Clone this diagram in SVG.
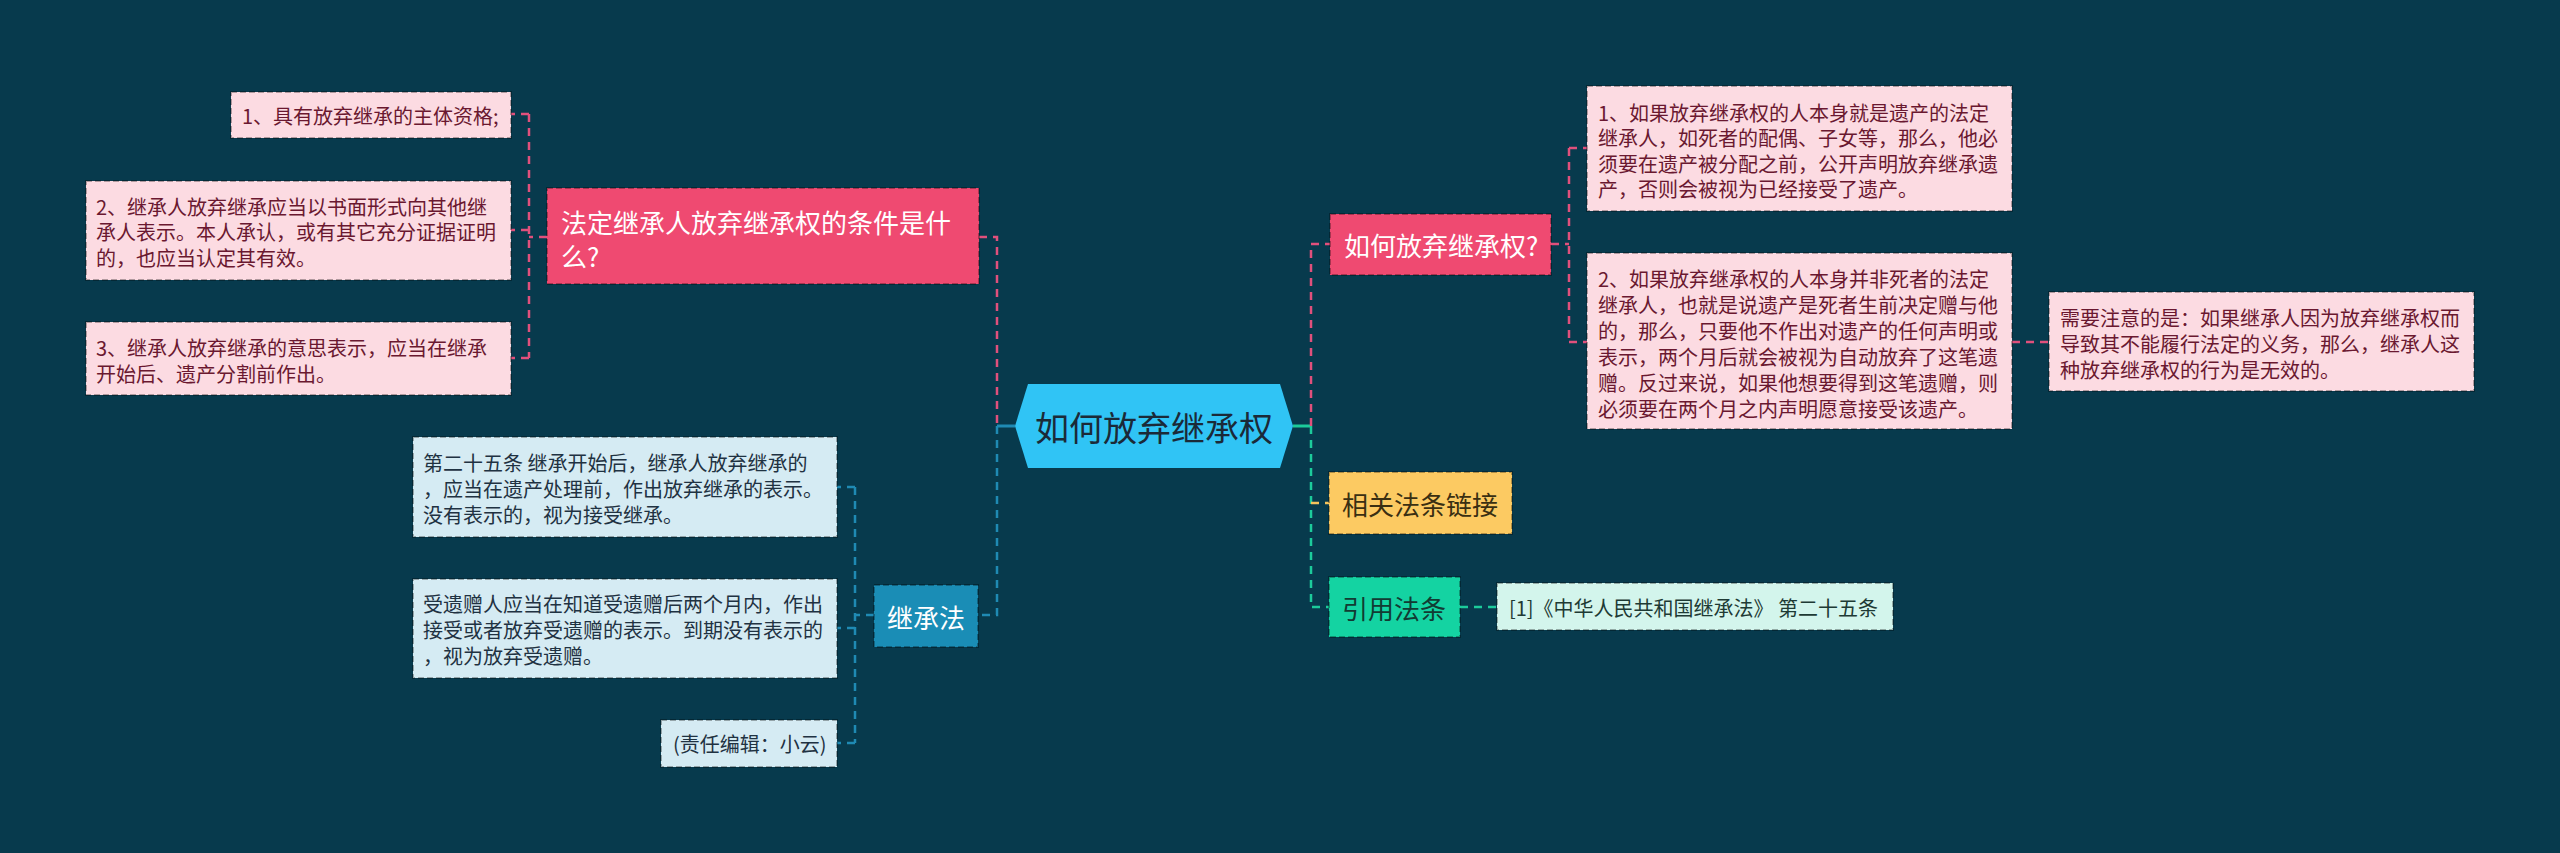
<svg xmlns="http://www.w3.org/2000/svg" width="2560" height="853" viewBox="0 0 2560 853">
<style>
text{font-family:"Noto Sans CJK SC","Noto Sans",sans-serif;dominant-baseline:central}
.leaf{font-size:20px}
.br{font-size:26px}
.c{fill:none;stroke-width:2.5;stroke-dasharray:8 6}
.pk{stroke:#e0507c}
.bl{stroke:#1f8ab4}
.gn{stroke:#1ccb9b}
.yl{stroke:#f5c35c}
.bd{stroke:rgba(0,0,0,0.3);stroke-width:2;stroke-dasharray:6 3}
.lp{fill:#fcdbe2}
.lpt{fill:#6a1830}
.lb{fill:#d5ebf3}
.lbt{fill:#1f3242}
</style>
<rect width="2560" height="853" fill="#073a4d"/>
<g id="connectors">
<path d="M997,426 H1015" stroke="#1f8ab4" stroke-width="3" fill="none"/>
<path d="M1293,426 H1311" stroke="#1ccb9b" stroke-width="3" fill="none"/>
<path class="c pk" d="M979,237 H997 V426"/>
<path class="c bl" d="M997,426 V615 H978"/>
<path class="c pk" d="M547,237 H529"/>
<path class="c pk" d="M529,114 V358"/>
<path class="c pk" d="M529,114 H511"/>
<path class="c pk" d="M529,230 H511"/>
<path class="c pk" d="M529,358 H511"/>
<path class="c bl" d="M874,615 H855"/>
<path class="c bl" d="M855,487 V743"/>
<path class="c bl" d="M855,487 H837"/>
<path class="c bl" d="M855,628 H837"/>
<path class="c bl" d="M855,743 H837"/>
<path class="c pk" d="M1311,426 V244 H1330"/>
<path class="c gn" d="M1311,426 V607 H1329"/>
<path class="c yl" d="M1311,503 H1329"/>
<path class="c pk" d="M1551,244 H1569"/>
<path class="c pk" d="M1569,148 V342"/>
<path class="c pk" d="M1569,148 H1587"/>
<path class="c pk" d="M1569,342 H1587"/>
<path class="c pk" d="M2012,342 H2049"/>
<path class="c gn" d="M1460,607 H1497"/>
</g>
<g id="root">
<polygon points="1015,426 1028,384 1280,384 1293,426 1280,468 1028,468" fill="#30c4f5"/>
<text x="1154" y="426" font-size="34" text-anchor="middle" fill="#1b2a38">如何放弃继承权</text>
</g>
<g id="n-conditions">
<rect x="547" y="188" width="432" height="96" fill="#ef4a71" class="bd"/>
<text class="br" x="561" y="221" fill="#ffffff">法定继承人放弃继承权的条件是什</text>
<text class="br" x="561" y="255" fill="#ffffff">么?</text>
</g>
<g id="n-c1">
<rect x="231" y="92" width="280" height="46" class="lp bd"/>
<text class="leaf lpt" x="242" y="115">1、具有放弃继承的主体资格;</text>
</g>
<g id="n-c2">
<rect x="86" y="181" width="425" height="99" class="lp bd"/>
<text class="leaf lpt" x="96" y="206">2、继承人放弃继承应当以书面形式向其他继</text>
<text class="leaf lpt" x="96" y="231.5">承人表示。本人承认，或有其它充分证据证明</text>
<text class="leaf lpt" x="96" y="257">的，也应当认定其有效。</text>
</g>
<g id="n-c3">
<rect x="86" y="322" width="425" height="73" class="lp bd"/>
<text class="leaf lpt" x="96" y="347">3、继承人放弃继承的意思表示，应当在继承</text>
<text class="leaf lpt" x="96" y="373">开始后、遗产分割前作出。</text>
</g>
<g id="n-law">
<rect x="874" y="585" width="104" height="62" fill="#1a8db6" class="bd"/>
<text class="br" x="926" y="616" text-anchor="middle" fill="#ffffff">继承法</text>
</g>
<g id="n-law1">
<rect x="413" y="437" width="424" height="100" class="lb bd"/>
<text class="leaf lbt" x="423" y="462">第二十五条 继承开始后，继承人放弃继承的</text>
<text class="leaf lbt" x="423" y="488">，应当在遗产处理前，作出放弃继承的表示。</text>
<text class="leaf lbt" x="423" y="514">没有表示的，视为接受继承。</text>
</g>
<g id="n-law2">
<rect x="413" y="579" width="424" height="99" class="lb bd"/>
<text class="leaf lbt" x="423" y="603">受遗赠人应当在知道受遗赠后两个月内，作出</text>
<text class="leaf lbt" x="423" y="629">接受或者放弃受遗赠的表示。到期没有表示的</text>
<text class="leaf lbt" x="423" y="655">，视为放弃受遗赠。</text>
</g>
<g id="n-law3">
<rect x="661" y="720" width="176" height="47" class="lb bd"/>
<text class="leaf lbt" x="673" y="743">(责任编辑：小云)</text>
</g>
<g id="n-how">
<rect x="1330" y="214" width="221" height="61" fill="#ef4a71" class="bd"/>
<text class="br" x="1344" y="244" fill="#ffffff">如何放弃继承权?</text>
</g>
<g id="n-how1">
<rect x="1587" y="86" width="425" height="125" class="lp bd"/>
<text class="leaf lpt" x="1598" y="112">1、如果放弃继承权的人本身就是遗产的法定</text>
<text class="leaf lpt" x="1598" y="137.5">继承人，如死者的配偶、子女等，那么，他必</text>
<text class="leaf lpt" x="1598" y="163">须要在遗产被分配之前，公开声明放弃继承遗</text>
<text class="leaf lpt" x="1598" y="188.5">产，否则会被视为已经接受了遗产。</text>
</g>
<g id="n-how2">
<rect x="1587" y="253" width="425" height="176" class="lp bd"/>
<text class="leaf lpt" x="1598" y="278">2、如果放弃继承权的人本身并非死者的法定</text>
<text class="leaf lpt" x="1598" y="304">继承人，也就是说遗产是死者生前决定赠与他</text>
<text class="leaf lpt" x="1598" y="330">的，那么，只要他不作出对遗产的任何声明或</text>
<text class="leaf lpt" x="1598" y="356">表示，两个月后就会被视为自动放弃了这笔遗</text>
<text class="leaf lpt" x="1598" y="382">赠。反过来说，如果他想要得到这笔遗赠，则</text>
<text class="leaf lpt" x="1598" y="408">必须要在两个月之内声明愿意接受该遗产。</text>
</g>
<g id="n-how3">
<rect x="2049" y="292" width="425" height="99" class="lp bd"/>
<text class="leaf lpt" x="2060" y="317">需要注意的是：如果继承人因为放弃继承权而</text>
<text class="leaf lpt" x="2060" y="343">导致其不能履行法定的义务，那么，继承人这</text>
<text class="leaf lpt" x="2060" y="369">种放弃继承权的行为是无效的。</text>
</g>
<g id="n-links">
<rect x="1329" y="472" width="183" height="62" fill="#fcca62" class="bd"/>
<text class="br" x="1420" y="503" text-anchor="middle" fill="#3a2f12">相关法条链接</text>
</g>
<g id="n-cite">
<rect x="1329" y="577" width="131" height="60" fill="#14d3a2" class="bd"/>
<text class="br" x="1394" y="607" text-anchor="middle" fill="#123b33">引用法条</text>
</g>
<g id="n-cite1">
<rect x="1497" y="583" width="396" height="47" fill="#d3f5ec" class="bd"/>
<text class="leaf" x="1509" y="607" fill="#1e3a34">[1]《中华人民共和国继承法》 第二十五条</text>
</g>
</svg>
